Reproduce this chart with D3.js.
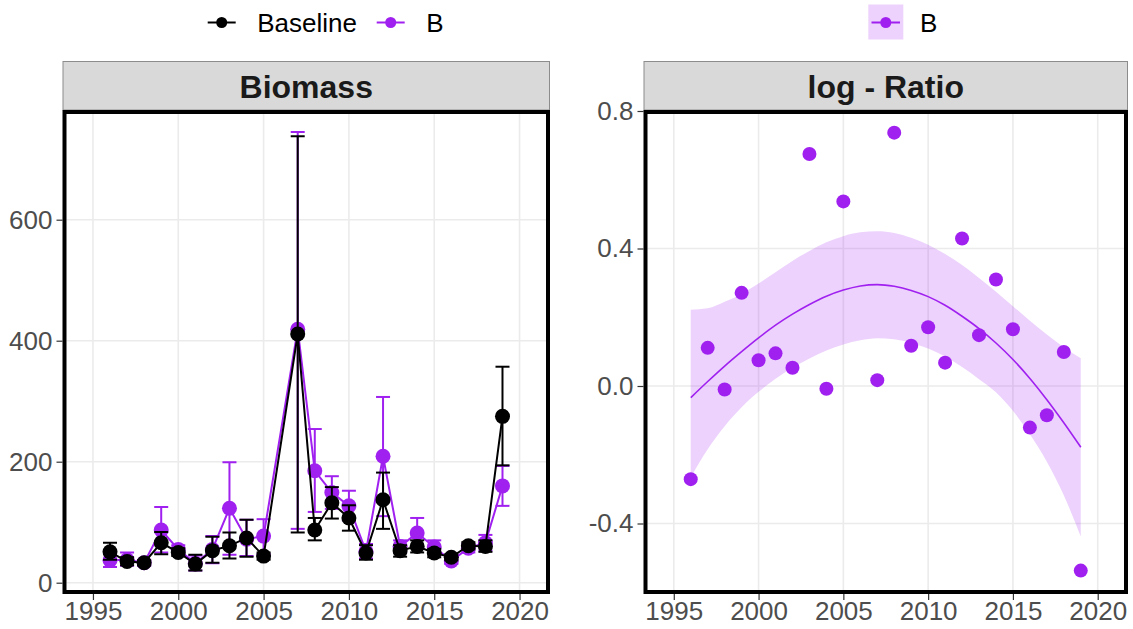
<!DOCTYPE html>
<html>
<head>
<meta charset="utf-8">
<script src="https://cdn.jsdelivr.net/npm/d3@7"></script>
<style>
  html, body { margin: 0; padding: 0; background: #fff; }
  svg { display: block; font-family: "Liberation Sans", Arial, Helvetica, sans-serif; }
</style>
</head>
<body>
<svg id="chart" width="1133" height="629"></svg>
<script>
// ---------- data ----------
const years = [1996,1997,1998,1999,2000,2001,2002,2003,2004,2005,2007,2008,2009,2010,2011,2012,2013,2014,2015,2016,2017,2018,2019];

const baseline   = [51, 35, 33, 66, 50, 31, 53, 61, 74, 44, 411, 87, 132, 107, 49, 137, 53, 60, 49, 42, 61, 60, 275];
const baselineLo = [38, 29, 29, 47, 44, 20, 33, 40, 43, 38,  83, 70, 106,  86, 38,  89, 43, 50, 42, 37, 55, 51, 194];
const baselineHi = [66, 42, 37, 84, 57, 46, 76, 83,104, 50, 738,107, 158, 128, 62, 182, 62, 70, 56, 47, 67, 70, 357];

const bValues = [37, 38, 33, 87, 55, 32, 55, 123, 72, 77, 419, 185, 149, 127, 52, 209, 60, 82, 59, 36, 57, 66, 160];
const bLo     = [26, 28, 28, 50, 48, 20, 32,  46, 44, 47,  89, 117, 122, 103, 40, 110, 50, 58, 49, 31, 50, 53, 127];
const bHi     = [48, 50, 38,125, 62, 45, 77, 199,104,105, 745, 254, 176, 152, 64, 307, 70,107, 70, 42, 64, 79, 193];

const logRatio = [-0.271, 0.111, -0.010, 0.271, 0.075, 0.095, 0.053, 0.675, -0.008, 0.537,
                  0.017, 0.737, 0.117, 0.171, 0.068, 0.429, 0.148, 0.310, 0.165, -0.121, -0.085, 0.099, -0.537];

// smoother of the log ratio (fitted line and 95% band)
const smoothYears = [1996,1997,1998,1999,2000,2001,2002,2003,2004,2005,2006,2007,2008,2009,2010,2011,2012,2013,2014,2015,2016,2017,2018,2019];
const smoothFit   = [-0.034, 0.013, 0.058, 0.100, 0.140, 0.177, 0.209, 0.237, 0.261, 0.279, 0.291, 0.295, 0.290, 0.278, 0.260, 0.235, 0.203, 0.167, 0.125, 0.077, 0.022, -0.040, -0.107, -0.178];
const smoothLo    = [-0.266, -0.184, -0.117, -0.062, -0.017, 0.021, 0.053, 0.080, 0.103, 0.121, 0.133, 0.139, 0.136, 0.126, 0.109, 0.086, 0.055, 0.020, -0.018, -0.072, -0.140, -0.220, -0.318, -0.438];
const smoothHi    = [0.222, 0.226, 0.245, 0.268, 0.298, 0.331, 0.364, 0.393, 0.418, 0.436, 0.447, 0.450, 0.445, 0.431, 0.411, 0.384, 0.352, 0.314, 0.274, 0.232, 0.190, 0.150, 0.113, 0.081];

const xTicks = [1995, 2000, 2005, 2010, 2015, 2020];
const yTicksLeft = [0, 200, 400, 600];
const yTicksRight = [-0.4, 0.0, 0.4, 0.8];
const yTickLabelsRight = ["-0.4", "0.0", "0.4", "0.8"];

const seriesNames = ["Baseline", "B"];
const panelTitles = ["Biomass", "log - Ratio"];

// ---------- style ----------
const PURPLE = "#A020F0";
const BLACK = "#000000";
const GRID = "#EBEBEB";
const TICKCOL = "#333333";
const LABCOL = "#4D4D4D";
const FS = 26;

const svg = d3.select("#chart");

const panels = [
  { x0: 62.5, x1: 550, y0: 110, y1: 594 },
  { x0: 643.5, x1: 1128, y0: 110, y1: 594 }
];
const stripTop = 61.5;
const BW = 4;

const xDomain = [1993.45, 2021.55];
function xScaleFor(p) {
  return d3.scaleLinear().domain(xDomain).range([p.x0 + BW, p.x1 - BW]);
}
const xL = xScaleFor(panels[0]);
const xR = xScaleFor(panels[1]);
const yL = d3.scaleLinear().domain([0, 600]).range([582.7, 219.7]);
const yR = d3.scaleLinear().domain([0, 0.8]).range([386, 111]);

// ---------- panels ----------
panels.forEach((p, k) => {
  const g = svg.append("g");
  const xs = k === 0 ? xL : xR;
  const ys = k === 0 ? yL : yR;
  const yt = k === 0 ? yTicksLeft : yTicksRight;

  g.append("rect")
    .attr("x", p.x0 + 0.5).attr("y", stripTop)
    .attr("width", p.x1 - p.x0 - 1).attr("height", p.y0 - stripTop)
    .attr("fill", "#D9D9D9").attr("stroke", "#8C8C8C").attr("stroke-width", 1);
  g.append("text")
    .attr("x", (p.x0 + p.x1) / 2).attr("y", (stripTop + p.y0) / 2 + 1)
    .attr("text-anchor", "middle").attr("dominant-baseline", "central")
    .attr("font-size", 32).attr("font-weight", "bold").attr("fill", "#1A1A1A")
    .text(panelTitles[k]);

  g.append("rect")
    .attr("x", p.x0).attr("y", p.y0)
    .attr("width", p.x1 - p.x0).attr("height", p.y1 - p.y0)
    .attr("fill", "#fff");

  g.selectAll(".vg").data(xTicks).enter().append("line")
    .attr("x1", d => xs(d)).attr("x2", d => xs(d))
    .attr("y1", p.y0 + BW).attr("y2", p.y1 - BW)
    .attr("stroke", GRID).attr("stroke-width", 1.6);
  g.selectAll(".hg").data(yt).enter().append("line")
    .attr("x1", p.x0 + BW).attr("x2", p.x1 - BW)
    .attr("y1", d => ys(d)).attr("y2", d => ys(d))
    .attr("stroke", GRID).attr("stroke-width", 1.6);

  const xAxis = d3.axisBottom(xs).tickValues(xTicks).tickFormat(d3.format("d")).tickSize(6).tickPadding(2);
  const gx = svg.append("g").attr("transform", `translate(0,${p.y1})`).call(xAxis);
  gx.select(".domain").remove();
  gx.selectAll(".tick line").attr("stroke", TICKCOL).attr("stroke-width", 1.2);
  gx.selectAll(".tick text").attr("font-size", FS).attr("fill", LABCOL)
    .attr("font-family", "'Liberation Sans', Arial, sans-serif");

  const yAxis = d3.axisLeft(ys).tickValues(yt).tickSize(6).tickPadding(4)
    .tickFormat((d, i) => k === 0 ? d3.format("d")(d) : yTickLabelsRight[i]);
  const gy = svg.append("g").attr("transform", `translate(${p.x0},0)`).call(yAxis);
  gy.select(".domain").remove();
  gy.selectAll(".tick line").attr("stroke", TICKCOL).attr("stroke-width", 1.2);
  gy.selectAll(".tick text").attr("font-size", FS).attr("fill", LABCOL)
    .attr("font-family", "'Liberation Sans', Arial, sans-serif");
});

const defs = svg.append("defs");
panels.forEach((p, k) => {
  defs.append("clipPath").attr("id", "clip" + k).append("rect")
    .attr("x", p.x0 + BW / 2).attr("y", p.y0 + BW / 2)
    .attr("width", p.x1 - p.x0 - BW).attr("height", p.y1 - p.y0 - BW);
});

// ---------- left panel ----------
const gL = svg.append("g").attr("clip-path", "url(#clip0)");
const capHalf = 7;
function drawSeries(vals, lo, hi, color) {
  const data = years.map((y, i) => ({ year: y, v: vals[i], lo: lo[i], hi: hi[i] }));
  gL.append("path").datum(data).attr("d", d3.line().x(d => xL(d.year)).y(d => yL(d.v)))
    .attr("fill", "none").attr("stroke", color).attr("stroke-width", 2);
  const eb = gL.append("g").attr("stroke", color).attr("stroke-width", 2);
  eb.selectAll(".v").data(data).enter().append("line")
    .attr("x1", d => xL(d.year)).attr("x2", d => xL(d.year))
    .attr("y1", d => yL(d.lo)).attr("y2", d => yL(d.hi));
  eb.selectAll(".t").data(data).enter().append("line")
    .attr("x1", d => xL(d.year) - capHalf).attr("x2", d => xL(d.year) + capHalf)
    .attr("y1", d => yL(d.hi)).attr("y2", d => yL(d.hi));
  eb.selectAll(".b").data(data).enter().append("line")
    .attr("x1", d => xL(d.year) - capHalf).attr("x2", d => xL(d.year) + capHalf)
    .attr("y1", d => yL(d.lo)).attr("y2", d => yL(d.lo));
  gL.append("g").selectAll("circle").data(data).enter().append("circle")
    .attr("cx", d => xL(d.year)).attr("cy", d => yL(d.v)).attr("r", 7.5)
    .attr("fill", color);
}
drawSeries(bValues, bLo, bHi, PURPLE);
drawSeries(baseline, baselineLo, baselineHi, BLACK);

// ---------- right panel ----------
const gR = svg.append("g").attr("clip-path", "url(#clip1)");
const smoothData = smoothYears.map((y, i) => ({ x: y, fit: smoothFit[i], lo: smoothLo[i], hi: smoothHi[i] }));
gR.append("path").datum(smoothData)
  .attr("d", d3.area().x(d => xR(d.x)).y0(d => yR(d.lo)).y1(d => yR(d.hi)).curve(d3.curveMonotoneX))
  .attr("fill", PURPLE).attr("fill-opacity", 0.2);
gR.append("path").datum(smoothData)
  .attr("d", d3.line().x(d => xR(d.x)).y(d => yR(d.fit)).curve(d3.curveMonotoneX))
  .attr("fill", "none").attr("stroke", PURPLE).attr("stroke-width", 1.6);
gR.append("g").selectAll("circle").data(years.map((y, i) => ({ year: y, v: logRatio[i] })))
  .enter().append("circle")
  .attr("cx", d => xR(d.year)).attr("cy", d => yR(d.v)).attr("r", 7)
  .attr("fill", PURPLE);

// ---------- borders ----------
panels.forEach(p => {
  svg.append("rect")
    .attr("x", p.x0 + BW / 2).attr("y", p.y0 + BW / 2)
    .attr("width", p.x1 - p.x0 - BW).attr("height", p.y1 - p.y0 - BW)
    .attr("fill", "none").attr("stroke", "#000").attr("stroke-width", BW);
});

// ---------- legends ----------
const legY = 22.5;
const leftLegend = [
  { name: seriesNames[0], color: BLACK, x: 207.7 },
  { name: seriesNames[1], color: PURPLE, x: 376.7 }
];
const lg = svg.append("g");
leftLegend.forEach(d => {
  lg.append("line").attr("x1", d.x).attr("x2", d.x + 28).attr("y1", legY).attr("y2", legY)
    .attr("stroke", d.color).attr("stroke-width", 2);
  lg.append("circle").attr("cx", d.x + 14).attr("cy", legY).attr("r", 5.5).attr("fill", d.color);
  lg.append("text").attr("x", d.x + 49.5).attr("y", legY).attr("dominant-baseline", "central")
    .attr("font-size", FS).attr("fill", "#000").text(d.name);
});
const rg = svg.append("g");
rg.append("rect").attr("x", 868.3).attr("y", 4.5).attr("width", 35).attr("height", 35)
  .attr("fill", PURPLE).attr("fill-opacity", 0.2);
rg.append("line").attr("x1", 871.5).attr("x2", 900).attr("y1", legY).attr("y2", legY)
  .attr("stroke", PURPLE).attr("stroke-width", 2);
rg.append("circle").attr("cx", 885.8).attr("cy", legY).attr("r", 5.5).attr("fill", PURPLE);
rg.append("text").attr("x", 920).attr("y", legY).attr("dominant-baseline", "central")
  .attr("font-size", FS).attr("fill", "#000").text(seriesNames[1]);
</script>
</body>
</html>
